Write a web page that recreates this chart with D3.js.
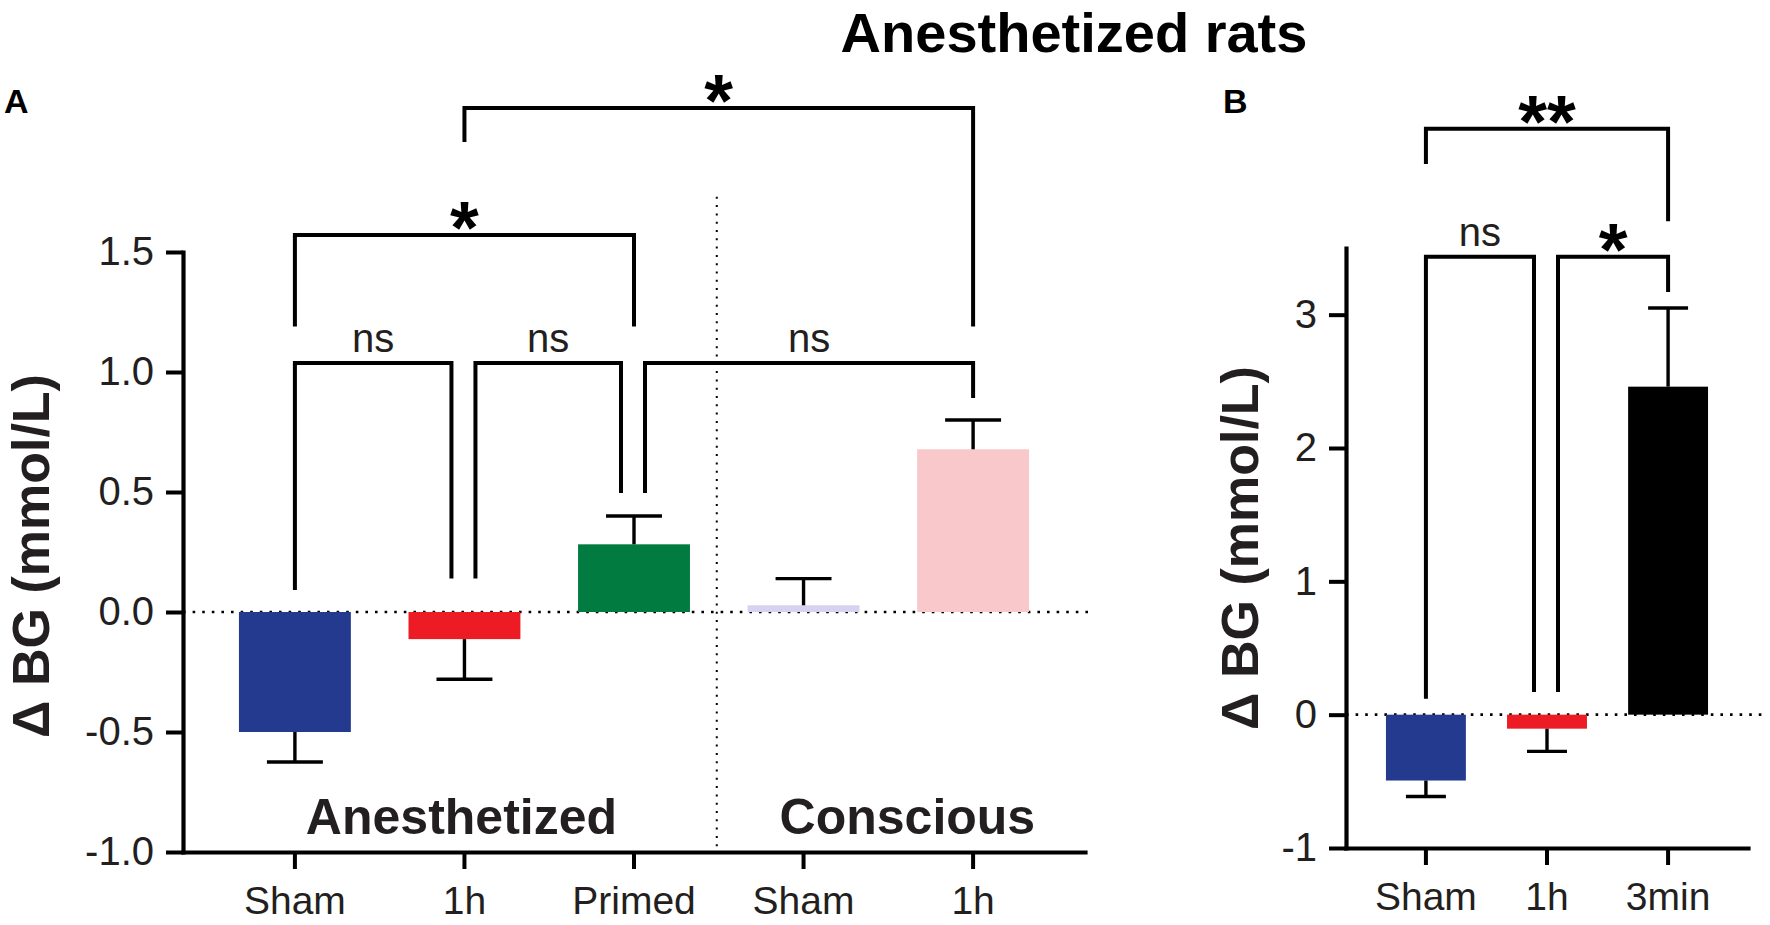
<!DOCTYPE html>
<html><head><meta charset="utf-8">
<script src="https://cdn.jsdelivr.net/npm/d3@7"></script>
<style>
body{margin:0;background:#fff}
svg{display:block}
text{font-family:"Liberation Sans",Arial,Helvetica,sans-serif;fill:#231f20}
</style>
</head><body><svg id="c" width="1770" height="925"></svg>
<script>
// ---------- data ----------
const categoriesA = ["Sham","1h","Primed","Sham","1h"];
const groupLabelsA = ["Anesthetized","Conscious"];
const meanA = [-0.50,-0.113,0.282,0.028,0.678];
const semA  = [0.125,0.167,0.118,0.111,0.122];
const colorsA = ["#233a8f","#ed1c24","#017b40","#d5d3ef","#f8c8ca"];
const yTicksA = [-1.0,-0.5,0.0,0.5,1.0,1.5];
const yTickLabelsA = ["-1.0","-0.5","0.0","0.5","1.0","1.5"];

const categoriesB = ["Sham","1h","3min"];
const meanB = [-0.494,-0.105,2.46];
const semB  = [0.12,0.17,0.59];
const colorsB = ["#233a8f","#ed1c24","#000000"];
const yTicksB = [-1,0,1,2,3];
const yTickLabelsB = ["-1","0","1","2","3"];

// comparisons: category indices, bracket level and leg ends (data units), label
const sigA = [
  {a:0,b:2,level:1.571,endA:1.19,endB:1.19,label:"*"},
  {a:1,b:4,level:2.10,endA:1.958,endB:1.19,label:"*"},
  {a:0,b:1,level:1.0375,endA:0.092,endB:0.14,label:"ns"},
  {a:1,b:2,level:1.0375,endA:0.14,endB:0.496,label:"ns"},
  {a:2,b:4,level:1.0375,endA:0.496,endB:0.892,label:"ns"}
];
const sigB = [
  {a:0,b:2,level:4.395,endA:4.13,endB:3.70,label:"**"},
  {a:0,b:1,level:3.435,endA:0.12,endB:0.17,label:"ns"},
  {a:1,b:2,level:3.435,endA:0.17,endB:3.17,label:"*"}
];

const svg = d3.select("#c");

// title & panel letters
svg.append("text").attr("x",1074).attr("y",52).attr("text-anchor","middle")
  .attr("font-size",56).attr("font-weight","bold").style("fill","#000").text("Anesthetized rats");
svg.append("text").attr("x",4).attr("y",113).attr("font-size",34).attr("font-weight","bold").style("fill","#000").text("A");
svg.append("text").attr("x",1223).attr("y",113).attr("font-size",34).attr("font-weight","bold").style("fill","#000").text("B");

function panel(cfg){
  const g = svg.append("g");
  const x = d3.scaleBand().domain(d3.range(cfg.cats.length))
      .range(cfg.xRange).paddingInner(0.34).paddingOuter(0.33);
  const y = d3.scaleLinear().domain(cfg.yDomain).range(cfg.yRange);
  const bw = x.bandwidth();
  const cx = i => x(i) + bw/2;

  // zero dotted line
  g.append("line").attr("x1",cfg.xRange[0]).attr("x2",cfg.zeroEnd)
    .attr("y1",y(0)).attr("y2",y(0))
    .attr("stroke","#000").attr("stroke-width",2.6).attr("stroke-dasharray","2.6,7");

  // bars
  g.selectAll("rect.bar").data(cfg.mean).join("rect").attr("class","bar")
    .attr("x",(d,i)=>x(i)).attr("width",bw)
    .attr("y",d=>y(Math.max(0,d))).attr("height",d=>Math.abs(y(d)-y(0)))
    .attr("fill",(d,i)=>cfg.colors[i]);

  // error bars (one-sided, away from zero)
  const capW = bw*0.5;
  cfg.mean.forEach((m,i)=>{
    const e = m + Math.sign(m)*cfg.sem[i];
    g.append("line").attr("x1",cx(i)).attr("x2",cx(i)).attr("y1",y(m)).attr("y2",y(e))
      .attr("stroke","#000").attr("stroke-width",3.4);
    g.append("line").attr("x1",cx(i)-capW/2).attr("x2",cx(i)+capW/2).attr("y1",y(e)).attr("y2",y(e))
      .attr("stroke","#000").attr("stroke-width",3.4);
  });

  // axes
  const ya = g.append("g").attr("transform",`translate(${cfg.xRange[0]},0)`)
    .call(d3.axisLeft(y).tickValues(cfg.yTicks).tickFormat((d,i)=>cfg.yLabels[i])
      .tickSize(17).tickSizeOuter(0).tickPadding(12));
  const xa = g.append("g").attr("transform",`translate(0,${cfg.yRange[0]})`)
    .call(d3.axisBottom(x).tickFormat(i=>cfg.cats[i]).tickSize(17).tickSizeOuter(0).tickPadding(17));
  [ya,xa].forEach(a=>{
    a.select(".domain").attr("stroke","#000").attr("stroke-width",4.2).attr("stroke-linecap","square");
    a.selectAll(".tick line").attr("stroke","#000").attr("stroke-width",4);
    a.selectAll(".tick text").attr("font-size",40).attr("font-family",null).style("fill","#231f20");
  });
  xa.selectAll(".tick text").attr("font-size",39);

  // y label
  g.append("text").attr("transform",`translate(${cfg.yLabelX},${cfg.yLabelY}) rotate(-90)`)
    .attr("text-anchor","middle").attr("font-size",52).attr("font-weight","bold").text("\u0394 BG (mmol/L)");

  // significance brackets
  const sameLevel = (s,t)=>Math.abs(s.level-t.level)<1e-6 && s!==t;
  cfg.sig.forEach(s=>{
    let xa0 = cx(s.a), xb0 = cx(s.b);
    if (cfg.sig.some(t=>sameLevel(s,t) && t.b===s.a)) xa0 += 11;
    if (cfg.sig.some(t=>sameLevel(s,t) && t.a===s.b)) xb0 -= 13;
    const yl = y(s.level);
    g.append("path")
      .attr("d",`M${xa0},${y(s.endA)}V${yl}H${xb0}V${y(s.endB)}`)
      .attr("fill","none").attr("stroke","#000").attr("stroke-width",4).attr("stroke-linejoin","miter");
    const mx = (xa0+xb0)/2;
    if (s.label==="ns"){
      g.append("text").attr("x",mx).attr("y",yl-11).attr("text-anchor","middle")
        .attr("font-size",40).text(s.label);
    } else {
      g.append("text").attr("x",mx).attr("y",yl-24+42).attr("text-anchor","middle")
        .attr("font-size",74).attr("font-weight","bold").style("fill","#000").text(s.label);
    }
  });
  return {x,y,cx,g};
}

const A = panel({cats:categoriesA, mean:meanA, sem:semA, colors:colorsA,
  xRange:[183,1085], yDomain:[-1,1.5], yRange:[852,252], zeroEnd:1090,
  yTicks:yTicksA, yLabels:yTickLabelsA, sig:sigA, yLabelX:49, yLabelY:556});

// divider between groups in A
const divX = (A.cx(2)+A.cx(3))/2 - 2;
A.g.append("line").attr("x1",divX).attr("x2",divX).attr("y1",A.y(1.73)).attr("y2",A.y(-1))
  .attr("stroke","#000").attr("stroke-width",2).attr("stroke-dasharray","2,6.3");
A.g.append("text").attr("x",A.cx(1)-3).attr("y",834).attr("text-anchor","middle")
  .attr("font-size",50).attr("font-weight","bold").text(groupLabelsA[0]);
A.g.append("text").attr("x",(divX+1090)/2+4).attr("y",834).attr("text-anchor","middle")
  .attr("font-size",50).attr("font-weight","bold").text(groupLabelsA[1]);

panel({cats:categoriesB, mean:meanB, sem:semB, colors:colorsB,
  xRange:[1346,1748], yDomain:[-1,3.5], yRange:[848,248], zeroEnd:1768,
  yTicks:yTicksB, yLabels:yTickLabelsB, sig:sigB, yLabelX:1258, yLabelY:548});
</script>
</body></html>
